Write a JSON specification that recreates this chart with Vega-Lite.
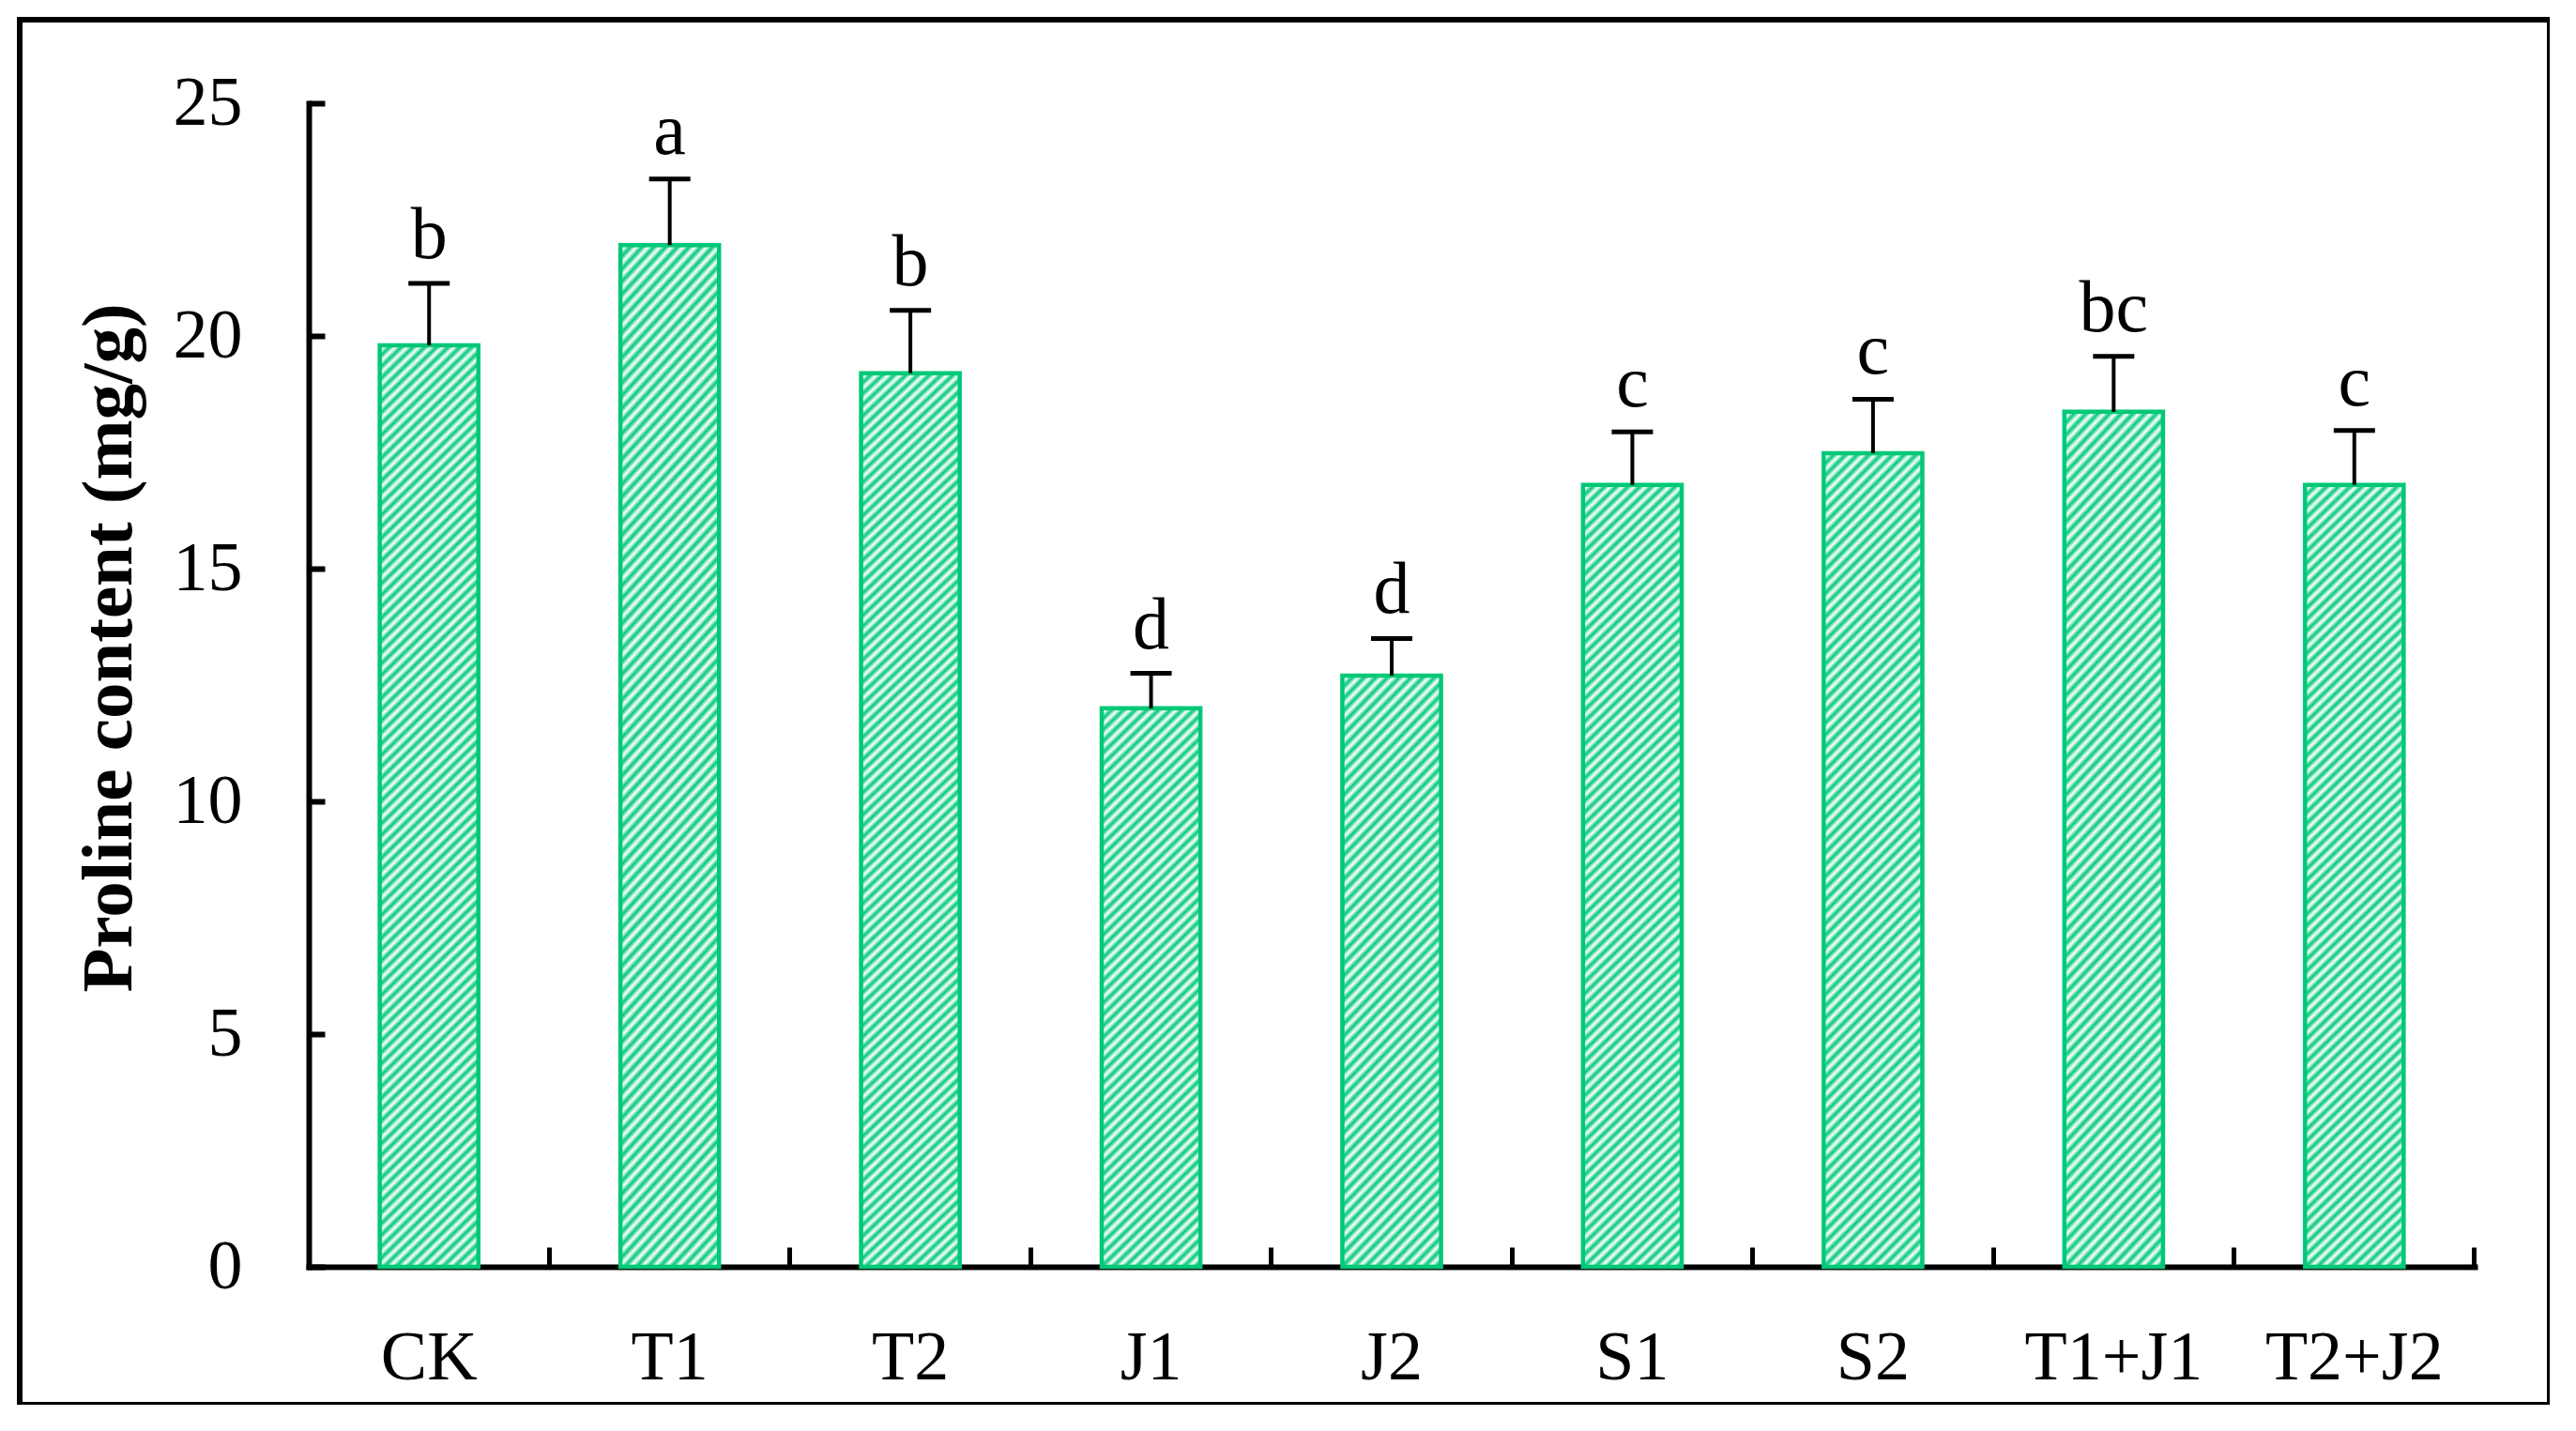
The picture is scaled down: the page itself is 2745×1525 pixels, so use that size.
{
"$schema": "https://vega.github.io/schema/vega-lite/v6.json",
"width": 2696,
"height": 1476,
"autosize": "none",
"padding": {"left": 21, "top": 21, "right": 0, "bottom": 0},
"background": "white",
"config": {"view": {"stroke": "black", "strokeWidth": 6, "fill": "white"}, "font": "Liberation Serif",
"axisY": {"offset": -308, "domainColor": "black", "domainWidth": 6, "domainCap": "square", "tickColor": "black", "tickWidth": 6, "tickSize": -17, "labelFont": "Liberation Serif", "labelFontSize": 74, "labelColor": "black", "labelPadding": 88, "grid": false, "titleFont": "Liberation Serif", "titleFontSize": 77, "titleFontWeight": "bold", "titleColor": "black", "titleX": -213, "titleY": 669, "titleAngle": -90, "titleAlign": "center", "titleBaseline": "middle"}},
"data": {"values": [
{"treatment": "CK", "mean": 19.8, "upper": 21.13, "letter": "b"},
{"treatment": "T1", "mean": 21.95, "upper": 23.37, "letter": "a"},
{"treatment": "T2", "mean": 19.2, "upper": 20.55, "letter": "b"},
{"treatment": "J1", "mean": 12.0, "upper": 12.75, "letter": "d"},
{"treatment": "J2", "mean": 12.7, "upper": 13.5, "letter": "d"},
{"treatment": "S1", "mean": 16.8, "upper": 17.94, "letter": "c"},
{"treatment": "S2", "mean": 17.48, "upper": 18.64, "letter": "c"},
{"treatment": "T1+J1", "mean": 18.37, "upper": 19.56, "letter": "bc"},
{"treatment": "T2+J2", "mean": 16.8, "upper": 17.97, "letter": "c"}
]},
"encoding": {
"x": {"field": "treatment", "type": "nominal", "sort": ["CK", "T1", "T2", "J1", "J2", "S1", "S2", "T1+J1", "T2+J2"],
"scale": {"range": [308, 2616], "paddingInner": 0.59, "paddingOuter": 0.295},
"axis": {"title": null, "labelAngle": 0, "offset": -147, "domainColor": "black", "domainWidth": 6, "domainCap": "square", "tickColor": "black", "tickWidth": 5, "tickSize": -21, "bandPosition": 1.7195, "labelFont": "Liberation Serif", "labelFontSize": 74, "labelColor": "black", "labelPadding": 82, "labelLimit": 0, "grid": false}}
},
"layer": [
{"transform": [{"filter": {"field": "treatment", "oneOf": ["CK", "T1", "T2"]}}],
"mark": {"type": "bar", "stroke": "#00c878", "strokeWidth": 4.5, "fill": {"gradient": "linear", "x1": 0, "y1": 0, "x2": 0.1142, "y2": 1.0953, "stops": [
{"offset":0,"color":"#00c878"},{"offset":0.0056,"color":"#fff"},{"offset":0.0112,"color":"#00c878"},{"offset":0.0168,"color":"#fff"},{"offset":0.0224,"color":"#00c878"},{"offset":0.028,"color":"#fff"},{"offset":0.0336,"color":"#00c878"},{"offset":0.0392,"color":"#fff"},{"offset":0.0448,"color":"#00c878"},{"offset":0.0504,"color":"#fff"},
{"offset":0.056,"color":"#00c878"},{"offset":0.0616,"color":"#fff"},{"offset":0.0672,"color":"#00c878"},{"offset":0.0728,"color":"#fff"},{"offset":0.0784,"color":"#00c878"},{"offset":0.084,"color":"#fff"},{"offset":0.0896,"color":"#00c878"},{"offset":0.0952,"color":"#fff"},{"offset":0.1008,"color":"#00c878"},{"offset":0.1064,"color":"#fff"},
{"offset":0.112,"color":"#00c878"},{"offset":0.1176,"color":"#fff"},{"offset":0.1232,"color":"#00c878"},{"offset":0.1288,"color":"#fff"},{"offset":0.1344,"color":"#00c878"},{"offset":0.14,"color":"#fff"},{"offset":0.1456,"color":"#00c878"},{"offset":0.1512,"color":"#fff"},{"offset":0.1568,"color":"#00c878"},{"offset":0.1624,"color":"#fff"},
{"offset":0.168,"color":"#00c878"},{"offset":0.1736,"color":"#fff"},{"offset":0.1792,"color":"#00c878"},{"offset":0.1848,"color":"#fff"},{"offset":0.1904,"color":"#00c878"},{"offset":0.196,"color":"#fff"},{"offset":0.2016,"color":"#00c878"},{"offset":0.2072,"color":"#fff"},{"offset":0.2128,"color":"#00c878"},{"offset":0.2184,"color":"#fff"},
{"offset":0.224,"color":"#00c878"},{"offset":0.2296,"color":"#fff"},{"offset":0.2352,"color":"#00c878"},{"offset":0.2408,"color":"#fff"},{"offset":0.2464,"color":"#00c878"},{"offset":0.252,"color":"#fff"},{"offset":0.2576,"color":"#00c878"},{"offset":0.2632,"color":"#fff"},{"offset":0.2688,"color":"#00c878"},{"offset":0.2744,"color":"#fff"},
{"offset":0.28,"color":"#00c878"},{"offset":0.2856,"color":"#fff"},{"offset":0.2912,"color":"#00c878"},{"offset":0.2968,"color":"#fff"},{"offset":0.3024,"color":"#00c878"},{"offset":0.308,"color":"#fff"},{"offset":0.3136,"color":"#00c878"},{"offset":0.3192,"color":"#fff"},{"offset":0.3248,"color":"#00c878"},{"offset":0.3304,"color":"#fff"},
{"offset":0.336,"color":"#00c878"},{"offset":0.3416,"color":"#fff"},{"offset":0.3472,"color":"#00c878"},{"offset":0.3528,"color":"#fff"},{"offset":0.3584,"color":"#00c878"},{"offset":0.364,"color":"#fff"},{"offset":0.3696,"color":"#00c878"},{"offset":0.3752,"color":"#fff"},{"offset":0.3808,"color":"#00c878"},{"offset":0.3864,"color":"#fff"},
{"offset":0.392,"color":"#00c878"},{"offset":0.3976,"color":"#fff"},{"offset":0.4032,"color":"#00c878"},{"offset":0.4088,"color":"#fff"},{"offset":0.4144,"color":"#00c878"},{"offset":0.42,"color":"#fff"},{"offset":0.4256,"color":"#00c878"},{"offset":0.4312,"color":"#fff"},{"offset":0.4368,"color":"#00c878"},{"offset":0.4424,"color":"#fff"},
{"offset":0.448,"color":"#00c878"},{"offset":0.4536,"color":"#fff"},{"offset":0.4592,"color":"#00c878"},{"offset":0.4648,"color":"#fff"},{"offset":0.4704,"color":"#00c878"},{"offset":0.476,"color":"#fff"},{"offset":0.4816,"color":"#00c878"},{"offset":0.4872,"color":"#fff"},{"offset":0.4928,"color":"#00c878"},{"offset":0.4984,"color":"#fff"},
{"offset":0.504,"color":"#00c878"},{"offset":0.5096,"color":"#fff"},{"offset":0.5152,"color":"#00c878"},{"offset":0.5208,"color":"#fff"},{"offset":0.5264,"color":"#00c878"},{"offset":0.532,"color":"#fff"},{"offset":0.5376,"color":"#00c878"},{"offset":0.5432,"color":"#fff"},{"offset":0.5488,"color":"#00c878"},{"offset":0.5544,"color":"#fff"},
{"offset":0.56,"color":"#00c878"},{"offset":0.5656,"color":"#fff"},{"offset":0.5712,"color":"#00c878"},{"offset":0.5768,"color":"#fff"},{"offset":0.5824,"color":"#00c878"},{"offset":0.588,"color":"#fff"},{"offset":0.5936,"color":"#00c878"},{"offset":0.5992,"color":"#fff"},{"offset":0.6048,"color":"#00c878"},{"offset":0.6104,"color":"#fff"},
{"offset":0.616,"color":"#00c878"},{"offset":0.6216,"color":"#fff"},{"offset":0.6272,"color":"#00c878"},{"offset":0.6328,"color":"#fff"},{"offset":0.6384,"color":"#00c878"},{"offset":0.644,"color":"#fff"},{"offset":0.6496,"color":"#00c878"},{"offset":0.6552,"color":"#fff"},{"offset":0.6608,"color":"#00c878"},{"offset":0.6664,"color":"#fff"},
{"offset":0.672,"color":"#00c878"},{"offset":0.6776,"color":"#fff"},{"offset":0.6832,"color":"#00c878"},{"offset":0.6888,"color":"#fff"},{"offset":0.6944,"color":"#00c878"},{"offset":0.7,"color":"#fff"},{"offset":0.7056,"color":"#00c878"},{"offset":0.7112,"color":"#fff"},{"offset":0.7168,"color":"#00c878"},{"offset":0.7224,"color":"#fff"},
{"offset":0.728,"color":"#00c878"},{"offset":0.7336,"color":"#fff"},{"offset":0.7392,"color":"#00c878"},{"offset":0.7448,"color":"#fff"},{"offset":0.7504,"color":"#00c878"},{"offset":0.756,"color":"#fff"},{"offset":0.7616,"color":"#00c878"},{"offset":0.7672,"color":"#fff"},{"offset":0.7728,"color":"#00c878"},{"offset":0.7784,"color":"#fff"},
{"offset":0.784,"color":"#00c878"},{"offset":0.7896,"color":"#fff"},{"offset":0.7952,"color":"#00c878"},{"offset":0.8008,"color":"#fff"},{"offset":0.8064,"color":"#00c878"},{"offset":0.812,"color":"#fff"},{"offset":0.8176,"color":"#00c878"},{"offset":0.8232,"color":"#fff"},{"offset":0.8288,"color":"#00c878"},{"offset":0.8344,"color":"#fff"},
{"offset":0.84,"color":"#00c878"},{"offset":0.8456,"color":"#fff"},{"offset":0.8512,"color":"#00c878"},{"offset":0.8568,"color":"#fff"},{"offset":0.8624,"color":"#00c878"},{"offset":0.868,"color":"#fff"},{"offset":0.8736,"color":"#00c878"},{"offset":0.8792,"color":"#fff"},{"offset":0.8848,"color":"#00c878"},{"offset":0.8904,"color":"#fff"},
{"offset":0.896,"color":"#00c878"},{"offset":0.9016,"color":"#fff"},{"offset":0.9072,"color":"#00c878"},{"offset":0.9128,"color":"#fff"},{"offset":0.9184,"color":"#00c878"},{"offset":0.924,"color":"#fff"},{"offset":0.9296,"color":"#00c878"},{"offset":0.9352,"color":"#fff"},{"offset":0.9408,"color":"#00c878"},{"offset":0.9464,"color":"#fff"},
{"offset":0.952,"color":"#00c878"},{"offset":0.9576,"color":"#fff"},{"offset":0.9632,"color":"#00c878"},{"offset":0.9688,"color":"#fff"},{"offset":0.9744,"color":"#00c878"},{"offset":0.98,"color":"#fff"},{"offset":0.9856,"color":"#00c878"},{"offset":0.9912,"color":"#fff"},{"offset":0.9968,"color":"#00c878"}
]}},
"encoding": {"y": {"field": "mean", "type": "quantitative", "scale": {"domain": [0, 25], "range": [1329, 89], "nice": false, "zero": true}, "axis": {"title": "Proline content (mg/g)", "values": [0, 5, 10, 15, 20, 25], "format": "d"}}}},
{"transform": [{"filter": {"field": "treatment", "oneOf": ["S1", "S2", "T1+J1", "T2+J2"]}}],
"mark": {"type": "bar", "stroke": "#00c878", "strokeWidth": 4.5, "fill": {"gradient": "linear", "x1": 0, "y1": 0, "x2": 0.15555, "y2": 1.27578, "stops": [
{"offset":0,"color":"#00c878"},{"offset":0.0056,"color":"#fff"},{"offset":0.0112,"color":"#00c878"},{"offset":0.0168,"color":"#fff"},{"offset":0.0224,"color":"#00c878"},{"offset":0.028,"color":"#fff"},{"offset":0.0336,"color":"#00c878"},{"offset":0.0392,"color":"#fff"},{"offset":0.0448,"color":"#00c878"},{"offset":0.0504,"color":"#fff"},
{"offset":0.056,"color":"#00c878"},{"offset":0.0616,"color":"#fff"},{"offset":0.0672,"color":"#00c878"},{"offset":0.0728,"color":"#fff"},{"offset":0.0784,"color":"#00c878"},{"offset":0.084,"color":"#fff"},{"offset":0.0896,"color":"#00c878"},{"offset":0.0952,"color":"#fff"},{"offset":0.1008,"color":"#00c878"},{"offset":0.1064,"color":"#fff"},
{"offset":0.112,"color":"#00c878"},{"offset":0.1176,"color":"#fff"},{"offset":0.1232,"color":"#00c878"},{"offset":0.1288,"color":"#fff"},{"offset":0.1344,"color":"#00c878"},{"offset":0.14,"color":"#fff"},{"offset":0.1456,"color":"#00c878"},{"offset":0.1512,"color":"#fff"},{"offset":0.1568,"color":"#00c878"},{"offset":0.1624,"color":"#fff"},
{"offset":0.168,"color":"#00c878"},{"offset":0.1736,"color":"#fff"},{"offset":0.1792,"color":"#00c878"},{"offset":0.1848,"color":"#fff"},{"offset":0.1904,"color":"#00c878"},{"offset":0.196,"color":"#fff"},{"offset":0.2016,"color":"#00c878"},{"offset":0.2072,"color":"#fff"},{"offset":0.2128,"color":"#00c878"},{"offset":0.2184,"color":"#fff"},
{"offset":0.224,"color":"#00c878"},{"offset":0.2296,"color":"#fff"},{"offset":0.2352,"color":"#00c878"},{"offset":0.2408,"color":"#fff"},{"offset":0.2464,"color":"#00c878"},{"offset":0.252,"color":"#fff"},{"offset":0.2576,"color":"#00c878"},{"offset":0.2632,"color":"#fff"},{"offset":0.2688,"color":"#00c878"},{"offset":0.2744,"color":"#fff"},
{"offset":0.28,"color":"#00c878"},{"offset":0.2856,"color":"#fff"},{"offset":0.2912,"color":"#00c878"},{"offset":0.2968,"color":"#fff"},{"offset":0.3024,"color":"#00c878"},{"offset":0.308,"color":"#fff"},{"offset":0.3136,"color":"#00c878"},{"offset":0.3192,"color":"#fff"},{"offset":0.3248,"color":"#00c878"},{"offset":0.3304,"color":"#fff"},
{"offset":0.336,"color":"#00c878"},{"offset":0.3416,"color":"#fff"},{"offset":0.3472,"color":"#00c878"},{"offset":0.3528,"color":"#fff"},{"offset":0.3584,"color":"#00c878"},{"offset":0.364,"color":"#fff"},{"offset":0.3696,"color":"#00c878"},{"offset":0.3752,"color":"#fff"},{"offset":0.3808,"color":"#00c878"},{"offset":0.3864,"color":"#fff"},
{"offset":0.392,"color":"#00c878"},{"offset":0.3976,"color":"#fff"},{"offset":0.4032,"color":"#00c878"},{"offset":0.4088,"color":"#fff"},{"offset":0.4144,"color":"#00c878"},{"offset":0.42,"color":"#fff"},{"offset":0.4256,"color":"#00c878"},{"offset":0.4312,"color":"#fff"},{"offset":0.4368,"color":"#00c878"},{"offset":0.4424,"color":"#fff"},
{"offset":0.448,"color":"#00c878"},{"offset":0.4536,"color":"#fff"},{"offset":0.4592,"color":"#00c878"},{"offset":0.4648,"color":"#fff"},{"offset":0.4704,"color":"#00c878"},{"offset":0.476,"color":"#fff"},{"offset":0.4816,"color":"#00c878"},{"offset":0.4872,"color":"#fff"},{"offset":0.4928,"color":"#00c878"},{"offset":0.4984,"color":"#fff"},
{"offset":0.504,"color":"#00c878"},{"offset":0.5096,"color":"#fff"},{"offset":0.5152,"color":"#00c878"},{"offset":0.5208,"color":"#fff"},{"offset":0.5264,"color":"#00c878"},{"offset":0.532,"color":"#fff"},{"offset":0.5376,"color":"#00c878"},{"offset":0.5432,"color":"#fff"},{"offset":0.5488,"color":"#00c878"},{"offset":0.5544,"color":"#fff"},
{"offset":0.56,"color":"#00c878"},{"offset":0.5656,"color":"#fff"},{"offset":0.5712,"color":"#00c878"},{"offset":0.5768,"color":"#fff"},{"offset":0.5824,"color":"#00c878"},{"offset":0.588,"color":"#fff"},{"offset":0.5936,"color":"#00c878"},{"offset":0.5992,"color":"#fff"},{"offset":0.6048,"color":"#00c878"},{"offset":0.6104,"color":"#fff"},
{"offset":0.616,"color":"#00c878"},{"offset":0.6216,"color":"#fff"},{"offset":0.6272,"color":"#00c878"},{"offset":0.6328,"color":"#fff"},{"offset":0.6384,"color":"#00c878"},{"offset":0.644,"color":"#fff"},{"offset":0.6496,"color":"#00c878"},{"offset":0.6552,"color":"#fff"},{"offset":0.6608,"color":"#00c878"},{"offset":0.6664,"color":"#fff"},
{"offset":0.672,"color":"#00c878"},{"offset":0.6776,"color":"#fff"},{"offset":0.6832,"color":"#00c878"},{"offset":0.6888,"color":"#fff"},{"offset":0.6944,"color":"#00c878"},{"offset":0.7,"color":"#fff"},{"offset":0.7056,"color":"#00c878"},{"offset":0.7112,"color":"#fff"},{"offset":0.7168,"color":"#00c878"},{"offset":0.7224,"color":"#fff"},
{"offset":0.728,"color":"#00c878"},{"offset":0.7336,"color":"#fff"},{"offset":0.7392,"color":"#00c878"},{"offset":0.7448,"color":"#fff"},{"offset":0.7504,"color":"#00c878"},{"offset":0.756,"color":"#fff"},{"offset":0.7616,"color":"#00c878"},{"offset":0.7672,"color":"#fff"},{"offset":0.7728,"color":"#00c878"},{"offset":0.7784,"color":"#fff"},
{"offset":0.784,"color":"#00c878"},{"offset":0.7896,"color":"#fff"},{"offset":0.7952,"color":"#00c878"},{"offset":0.8008,"color":"#fff"},{"offset":0.8064,"color":"#00c878"},{"offset":0.812,"color":"#fff"},{"offset":0.8176,"color":"#00c878"},{"offset":0.8232,"color":"#fff"},{"offset":0.8288,"color":"#00c878"},{"offset":0.8344,"color":"#fff"},
{"offset":0.84,"color":"#00c878"},{"offset":0.8456,"color":"#fff"},{"offset":0.8512,"color":"#00c878"},{"offset":0.8568,"color":"#fff"},{"offset":0.8624,"color":"#00c878"},{"offset":0.868,"color":"#fff"},{"offset":0.8736,"color":"#00c878"}
]}},
"encoding": {"y": {"field": "mean", "type": "quantitative", "scale": {"domain": [0, 25], "range": [1329, 89], "nice": false, "zero": true}, "axis": {"title": "Proline content (mg/g)", "values": [0, 5, 10, 15, 20, 25], "format": "d"}}}},
{"transform": [{"filter": {"field": "treatment", "oneOf": ["J1", "J2"]}}],
"mark": {"type": "bar", "stroke": "#00c878", "strokeWidth": 4.5, "fill": {"gradient": "linear", "x1": 0, "y1": 0, "x2": 0.30324, "y2": 1.76869, "stops": [
{"offset":0,"color":"#00c878"},{"offset":0.0056,"color":"#fff"},{"offset":0.0112,"color":"#00c878"},{"offset":0.0168,"color":"#fff"},{"offset":0.0224,"color":"#00c878"},{"offset":0.028,"color":"#fff"},{"offset":0.0336,"color":"#00c878"},{"offset":0.0392,"color":"#fff"},{"offset":0.0448,"color":"#00c878"},{"offset":0.0504,"color":"#fff"},
{"offset":0.056,"color":"#00c878"},{"offset":0.0616,"color":"#fff"},{"offset":0.0672,"color":"#00c878"},{"offset":0.0728,"color":"#fff"},{"offset":0.0784,"color":"#00c878"},{"offset":0.084,"color":"#fff"},{"offset":0.0896,"color":"#00c878"},{"offset":0.0952,"color":"#fff"},{"offset":0.1008,"color":"#00c878"},{"offset":0.1064,"color":"#fff"},
{"offset":0.112,"color":"#00c878"},{"offset":0.1176,"color":"#fff"},{"offset":0.1232,"color":"#00c878"},{"offset":0.1288,"color":"#fff"},{"offset":0.1344,"color":"#00c878"},{"offset":0.14,"color":"#fff"},{"offset":0.1456,"color":"#00c878"},{"offset":0.1512,"color":"#fff"},{"offset":0.1568,"color":"#00c878"},{"offset":0.1624,"color":"#fff"},
{"offset":0.168,"color":"#00c878"},{"offset":0.1736,"color":"#fff"},{"offset":0.1792,"color":"#00c878"},{"offset":0.1848,"color":"#fff"},{"offset":0.1904,"color":"#00c878"},{"offset":0.196,"color":"#fff"},{"offset":0.2016,"color":"#00c878"},{"offset":0.2072,"color":"#fff"},{"offset":0.2128,"color":"#00c878"},{"offset":0.2184,"color":"#fff"},
{"offset":0.224,"color":"#00c878"},{"offset":0.2296,"color":"#fff"},{"offset":0.2352,"color":"#00c878"},{"offset":0.2408,"color":"#fff"},{"offset":0.2464,"color":"#00c878"},{"offset":0.252,"color":"#fff"},{"offset":0.2576,"color":"#00c878"},{"offset":0.2632,"color":"#fff"},{"offset":0.2688,"color":"#00c878"},{"offset":0.2744,"color":"#fff"},
{"offset":0.28,"color":"#00c878"},{"offset":0.2856,"color":"#fff"},{"offset":0.2912,"color":"#00c878"},{"offset":0.2968,"color":"#fff"},{"offset":0.3024,"color":"#00c878"},{"offset":0.308,"color":"#fff"},{"offset":0.3136,"color":"#00c878"},{"offset":0.3192,"color":"#fff"},{"offset":0.3248,"color":"#00c878"},{"offset":0.3304,"color":"#fff"},
{"offset":0.336,"color":"#00c878"},{"offset":0.3416,"color":"#fff"},{"offset":0.3472,"color":"#00c878"},{"offset":0.3528,"color":"#fff"},{"offset":0.3584,"color":"#00c878"},{"offset":0.364,"color":"#fff"},{"offset":0.3696,"color":"#00c878"},{"offset":0.3752,"color":"#fff"},{"offset":0.3808,"color":"#00c878"},{"offset":0.3864,"color":"#fff"},
{"offset":0.392,"color":"#00c878"},{"offset":0.3976,"color":"#fff"},{"offset":0.4032,"color":"#00c878"},{"offset":0.4088,"color":"#fff"},{"offset":0.4144,"color":"#00c878"},{"offset":0.42,"color":"#fff"},{"offset":0.4256,"color":"#00c878"},{"offset":0.4312,"color":"#fff"},{"offset":0.4368,"color":"#00c878"},{"offset":0.4424,"color":"#fff"},
{"offset":0.448,"color":"#00c878"},{"offset":0.4536,"color":"#fff"},{"offset":0.4592,"color":"#00c878"},{"offset":0.4648,"color":"#fff"},{"offset":0.4704,"color":"#00c878"},{"offset":0.476,"color":"#fff"},{"offset":0.4816,"color":"#00c878"},{"offset":0.4872,"color":"#fff"},{"offset":0.4928,"color":"#00c878"},{"offset":0.4984,"color":"#fff"},
{"offset":0.504,"color":"#00c878"},{"offset":0.5096,"color":"#fff"},{"offset":0.5152,"color":"#00c878"},{"offset":0.5208,"color":"#fff"},{"offset":0.5264,"color":"#00c878"},{"offset":0.532,"color":"#fff"},{"offset":0.5376,"color":"#00c878"},{"offset":0.5432,"color":"#fff"},{"offset":0.5488,"color":"#00c878"},{"offset":0.5544,"color":"#fff"},
{"offset":0.56,"color":"#00c878"},{"offset":0.5656,"color":"#fff"},{"offset":0.5712,"color":"#00c878"},{"offset":0.5768,"color":"#fff"},{"offset":0.5824,"color":"#00c878"},{"offset":0.588,"color":"#fff"},{"offset":0.5936,"color":"#00c878"},{"offset":0.5992,"color":"#fff"},{"offset":0.6048,"color":"#00c878"},{"offset":0.6104,"color":"#fff"},
{"offset":0.616,"color":"#00c878"},{"offset":0.6216,"color":"#fff"},{"offset":0.6272,"color":"#00c878"},{"offset":0.6328,"color":"#fff"},{"offset":0.6384,"color":"#00c878"},{"offset":0.644,"color":"#fff"},{"offset":0.6496,"color":"#00c878"}
]}},
"encoding": {"y": {"field": "mean", "type": "quantitative", "scale": {"domain": [0, 25], "range": [1329, 89], "nice": false, "zero": true}, "axis": {"title": "Proline content (mg/g)", "values": [0, 5, 10, 15, 20, 25], "format": "d"}}}},
{"mark": {"type": "rule", "color": "black", "strokeWidth": 4},
"encoding": {"y": {"field": "mean", "type": "quantitative", "scale": {"domain": [0, 25], "range": [1329, 89], "nice": false, "zero": true}, "axis": {"title": "Proline content (mg/g)", "values": [0, 5, 10, 15, 20, 25], "format": "d"}}, "y2": {"field": "upper"}}},
{"mark": {"type": "tick", "orient": "horizontal", "color": "black", "thickness": 5, "size": 44, "opacity": 1},
"encoding": {"y": {"field": "upper", "type": "quantitative", "scale": {"domain": [0, 25], "range": [1329, 89], "nice": false, "zero": true}, "axis": {"title": "Proline content (mg/g)", "values": [0, 5, 10, 15, 20, 25], "format": "d"}}}},
{"mark": {"type": "text", "font": "Liberation Serif", "fontSize": 78, "color": "black", "baseline": "alphabetic", "align": "center", "dy": -27},
"encoding": {"y": {"field": "upper", "type": "quantitative", "scale": {"domain": [0, 25], "range": [1329, 89], "nice": false, "zero": true}, "axis": {"title": "Proline content (mg/g)", "values": [0, 5, 10, 15, 20, 25], "format": "d"}}, "text": {"field": "letter"}}}
]
}
